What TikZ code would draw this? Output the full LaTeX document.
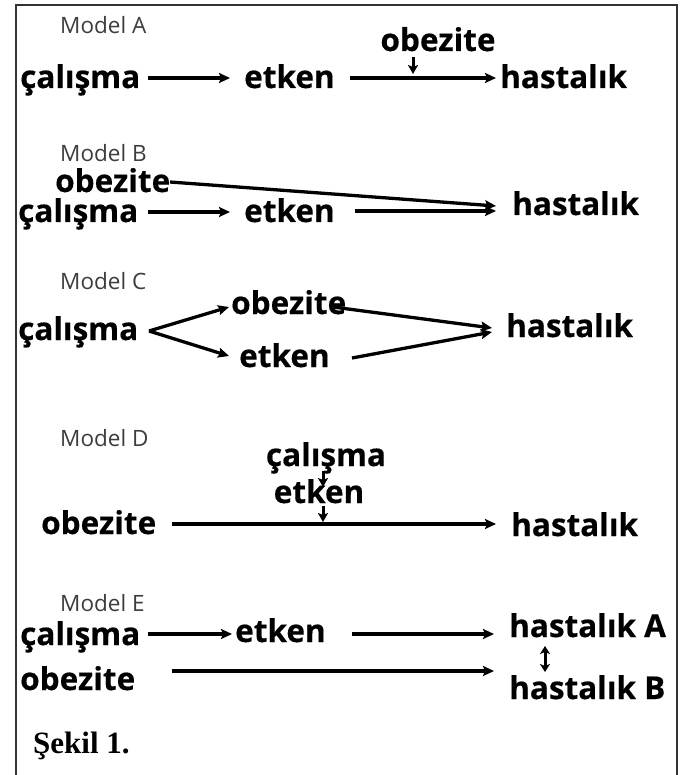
\documentclass[tikz,border=0pt]{standalone}
\usepackage{fontspec}
\setmainfont{Open Sans}
\newfontfamily\heavy{Open Sans Bold}[FakeBold=0.4]
\newfontfamily\capfont{Liberation Serif}
\usetikzlibrary{arrows.meta}
\begin{document}
\begin{tikzpicture}[x=1pt,y=-1pt,
  lbl/.style={anchor=base west,inner sep=0pt,font=\heavy\fontsize{31.5}{31.5}\selectfont},
  lblc/.style={anchor=base,inner sep=0pt,font=\heavy\fontsize{31.5}{31.5}\selectfont},
  modelname/.style={anchor=base west,inner sep=0pt,text=black!76,font=\fontsize{22.5}{22.5}\selectfont},
  flow/.style={line width=3.3pt,-{Stealth[length=11pt,width=10pt,inset=2pt]}},
  tick/.style={line width=3pt,-{Stealth[length=9pt,width=10pt,inset=2pt]}},
  both/.style={line width=3pt,{Stealth[length=8pt,width=10pt,inset=2pt]}-{Stealth[length=8pt,width=10pt,inset=2pt]}}]
\useasboundingbox (0,0) rectangle (684,775);
\fill[white] (0,0) rectangle (684,775);
% open frame
\draw[line width=1.8pt,black!80] (16,775) -- (16,5) -- (677,5) -- (677,775);

% ---------- Model A
\node[modelname] (mA) at (60,34) {Model A};
\node[lbl] (a1) at (20,88) {çalışma};
\node[lbl] (a2) at (244,88) {etken};
\node[lbl] (a3) at (500,88) {hastalık};
\node[lblc] (a4) at (438,51) {obezite};
\coordinate (a12s) at (148,78);
\coordinate (a12e) at (230,78);
\coordinate (a23s) at (350,78);
\coordinate (a23e) at (496,78);
\coordinate (a4s) at (413,57);
\coordinate (a4e) at (413,74);
\draw[flow] (a12s) -- (a12e);
\draw[flow] (a23s) -- (a23e);
\draw[tick] (a4s) -- (a4e);

% ---------- Model B
\node[modelname] (mB) at (60,162) {Model B};
\node[lbl] (b4) at (55,192) {obezite};
\node[lbl] (b1) at (18,222) {çalışma};
\node[lbl] (b2) at (244,222) {etken};
\node[lbl] (b3) at (512,215) {hastalık};
\coordinate (b12s) at (148,212);
\coordinate (b12e) at (230,212);
\coordinate (b23s) at (355,211);
\coordinate (b23e) at (496,211);
\coordinate (b43s) at (170,182);
\coordinate (b43e) at (496,206);
\draw[flow] (b12s) -- (b12e);
\draw[flow] (b23s) -- (b23e);
\draw[flow] (b43s) -- (b43e);

% ---------- Model C
\node[modelname] (mC) at (60,289) {Model C};
\node[lbl] (c1) at (18,340) {çalışma};
\node[lbl] (c4) at (231,314) {obezite};
\node[lbl] (c2) at (239,367) {etken};
\node[lbl] (c3) at (506,337) {hastalık};
\coordinate (c0) at (149,331);
\coordinate (c14e) at (229,307);
\coordinate (c12e) at (229,356);
\coordinate (c43s) at (333,307);
\coordinate (c43e) at (492,328);
\coordinate (c23s) at (352,358);
\coordinate (c23e) at (492,332);
\draw[flow] (c0) -- (c14e);
\draw[flow] (c0) -- (c12e);
\draw[flow] (c43s) -- (c43e);
\draw[flow] (c23s) -- (c23e);

% ---------- Model D
\node[modelname] (mD) at (60,446) {Model D};
\node[lblc] (d1) at (326,466) {çalışma};
\node[lblc] (d2) at (319,503) {etken};
\node[lbl] (d4) at (41,534) {obezite};
\node[lbl] (d3) at (511,536) {hastalık};
\coordinate (d12s) at (323,471);
\coordinate (d12e) at (323,487);
\coordinate (d2s) at (323,506);
\coordinate (d2e) at (323,522);
\coordinate (d43s) at (172,524);
\coordinate (d43e) at (496,524);
\draw[tick] (d12s) -- (d12e);
\draw[tick] (d2s) -- (d2e);
\draw[flow] (d43s) -- (d43e);

% ---------- Model E
\node[modelname] (mE) at (60,611) {Model E};
\node[lbl] (e1) at (20,645) {çalışma};
\node[lbl] (e2) at (235,642) {etken};
\node[lbl] (e3) at (509,637) {hastalık A};
\node[lbl] (e4) at (20,690) {obezite};
\node[lbl] (e5) at (509,699) {hastalık B};
\coordinate (e12s) at (148,634);
\coordinate (e12e) at (232,634);
\coordinate (e23s) at (352,634);
\coordinate (e23e) at (494,634);
\coordinate (e45s) at (172,671);
\coordinate (e45e) at (494,671);
\coordinate (e35s) at (545,646);
\coordinate (e35e) at (545,672);
\draw[flow] (e12s) -- (e12e);
\draw[flow] (e23s) -- (e23e);
\draw[flow] (e45s) -- (e45e);
\draw[both] (e35s) -- (e35e);

% ---------- caption
\node[anchor=base west,inner sep=0pt,font=\capfont\fontsize{31}{31}\selectfont\bfseries] (cap) at (33,753) {Şekil 1.};
\end{tikzpicture}
\end{document}
